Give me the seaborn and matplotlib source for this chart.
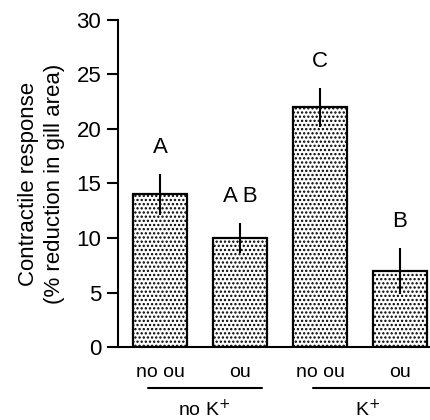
import matplotlib
matplotlib.use("Agg")
import matplotlib.pyplot as plt
import seaborn as sns
import pandas as pd

conditions = ["no ou", "ou", "no ou", "ou"]
groups = ["no K$^{+}$", "no K$^{+}$", "K$^{+}$", "K$^{+}$"]
means = [14.0, 10.0, 22.0, 7.0]
errors = [1.9, 1.4, 1.8, 2.1]
letters = ["A", "A B", "C", "B"]
yticks = [0, 5, 10, 15, 20, 25, 30]
ytick_labels = ["0", "5", "10", "15", "20", "25", "30"]

sns.set_theme(style="ticks")
plt.rcParams["font.family"] = ["Liberation Sans", "DejaVu Sans"]
plt.rcParams["hatch.color"] = "#333333"
plt.rcParams["hatch.linewidth"] = 1.1
for key in ["text.color", "axes.labelcolor", "xtick.color", "ytick.color",
            "xtick.labelcolor", "ytick.labelcolor"]:
    plt.rcParams[key] = "black"

df = pd.DataFrame({"pos": list(range(4)), "mean": means})

fig = plt.figure(figsize=(4.3, 4.2), dpi=100)
ax = fig.add_axes([0.2744, 0.1738, 0.7256, 0.7786])

sns.barplot(data=df, x="pos", y="mean", ax=ax, color="white", width=0.67,
            edgecolor="black", linewidth=1.6, errorbar=None, zorder=2)
for p in ax.patches:
    p.set_hatch("....")
    p.set_facecolor("white")
    p.set_edgecolor("black")

ax.errorbar(x=list(range(4)), y=means, yerr=errors, fmt="none", ecolor="black",
            elinewidth=1.5, capsize=0, zorder=3)

for i, (m, e, lab) in enumerate(zip(means, errors, letters)):
    ax.text(i, m + e + 2.4, lab, ha="center", va="center", fontsize=16, color="black")

ax.set_xlim(-0.525, 3.375)
ax.set_ylim(0, 30)
ax.set_yticks(yticks)
ax.set_yticklabels(ytick_labels, fontsize=16)
ax.set_xticks(list(range(4)))
ax.set_xticklabels(conditions, fontsize=14)
ax.tick_params(axis="x", length=0, pad=12, colors="black")
ax.tick_params(axis="y", length=8, width=1.5, direction="out", pad=4, colors="black")
ax.spines["top"].set_visible(False)
ax.spines["right"].set_visible(False)
for s in ["left", "bottom"]:
    ax.spines[s].set_linewidth(1.5)
    ax.spines[s].set_color("black")

ax.set_xlabel("")
ax.set_ylabel("Contractile response\n(% reduction in gill area)", fontsize=16,
              labelpad=8, linespacing=1.35, color="black")

trans = ax.get_xaxis_transform()
ax.plot([-0.15, 1.275], [-0.125, -0.125], transform=trans, color="black",
        lw=1.5, clip_on=False)
ax.plot([1.9125, 3.375], [-0.125, -0.125], transform=trans, color="black",
        lw=1.5, clip_on=False)
ax.text(0.55, -0.193, groups[0], transform=trans, ha="center", va="center",
        fontsize=14, color="black")
ax.text(2.59, -0.193, groups[2], transform=trans, ha="center", va="center",
        fontsize=14, color="black")

fig.savefig("out.png", dpi=100)
